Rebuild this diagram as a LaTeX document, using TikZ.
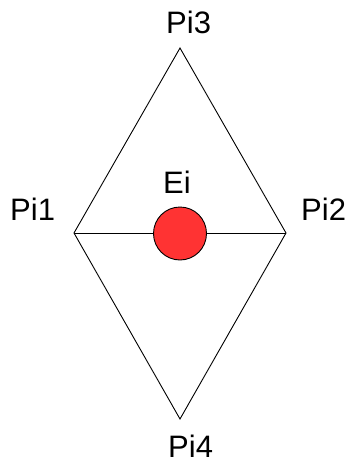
\documentclass[tikz,border=0pt]{standalone}
\usepackage{fontspec}
\setmainfont{Liberation Sans}
\definecolor{eired}{RGB}{255,51,51}
\begin{document}
\begin{tikzpicture}[x=1pt,y=-1pt,
  lbl/.style={inner sep=0pt,anchor=base west,font=\fontsize{31}{36}\selectfont},
  edge/.style={draw=black,line width=0.9pt},
  dot/.style={circle,draw=black,line width=0.9pt,fill=eired,minimum size=53pt,inner sep=0pt}]
\useasboundingbox (0,0) rectangle (354,464);
\coordinate (p3) at (180,48);
\coordinate (p1) at (74,233);
\coordinate (p2) at (286,233);
\coordinate (p4) at (180,419);
\draw[edge] (p3) -- (p1) -- (p4) -- (p2) -- cycle;
\draw[edge] (p1) -- (p2);
\node[dot] (ei) at (180,233.5) {};
\node[lbl] (t3) at (166,33) {Pi3};
\node[lbl] (t1) at (10,220) {Pi1};
\node[lbl] (t2) at (301,220) {Pi2};
\node[lbl] (te) at (163,193) {Ei};
\node[lbl] (t4) at (168,457) {Pi4};
\end{tikzpicture}
\end{document}
